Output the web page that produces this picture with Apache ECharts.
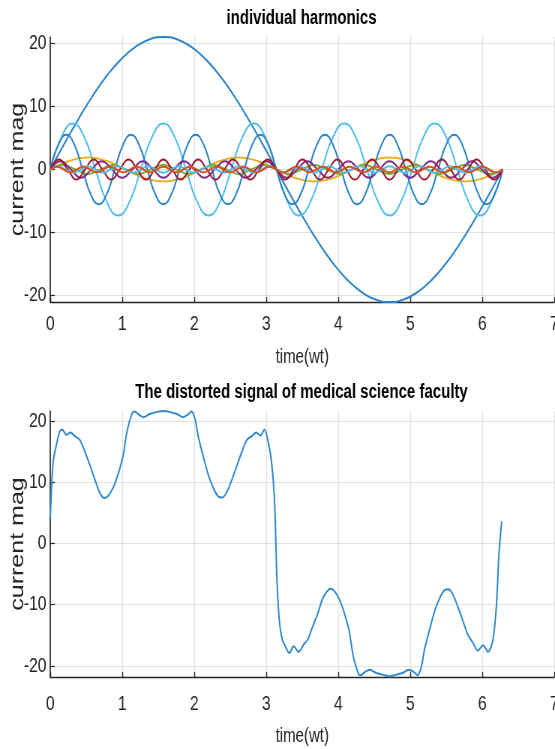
<!DOCTYPE html>
<html>
<head>
<meta charset="utf-8">
<script src="https://cdn.jsdelivr.net/npm/echarts@6/dist/echarts.min.js"></script>
<style>
html, body { margin: 0; padding: 0; background: #fff; overflow: hidden; }
/* the source figure is squeezed sideways, so the chart is drawn wider and squeezed back */
#chart { width: 740px; height: 749px; transform: scaleX(0.75); transform-origin: 0 0; }
</style>
</head>
<body>
<div id="chart"></div>
<script>
// ticks shared by both plots
var xTicks = [0, 1, 2, 3, 4, 5, 6, 7];
var yTicks = [-20, -10, 0, 10, 20];

// fundamental
var t1 = [0, 0.1963, 0.3927, 0.589, 0.7854, 0.9817, 1.1781, 1.3744, 1.5708, 1.7671, 1.9635, 2.1598, 2.3562, 2.5525, 2.7489, 2.9452, 3.1416,
  3.3379, 3.5343, 3.7306, 3.927, 4.1233, 4.3197, 4.516, 4.7124, 4.9087, 5.1051, 5.3014, 5.4978, 5.6941, 5.8905, 6.0868, 6.2832];
var v1 = [0, 4.1, 8.04, 11.67, 14.85, 17.46, 19.4, 20.6, 21, 20.6, 19.4, 17.46, 14.85, 11.67, 8.04, 4.1, 0,
  -4.1, -8.04, -11.67, -14.85, -17.46, -19.4, -20.6, -21, -20.6, -19.4, -17.46, -14.85, -11.67, -8.04, -4.1, 0];

// 3rd harmonic
var t3 = [0, 0.2618, 0.5236, 0.7854, 1.0472, 1.309, 1.5708, 1.8326, 2.0944, 2.3562, 2.618, 2.8798, 3.1416,
  3.4034, 3.6652, 3.927, 4.1888, 4.4506, 4.7124, 4.9742, 5.236, 5.4978, 5.7596, 6.0214, 6.2832];
var v3 = [0, 1.34, 1.9, 1.34, 0, -1.34, -1.9, -1.34,
  0, 1.34, 1.9, 1.34, 0, -1.34, -1.9, -1.34,
  0, 1.34, 1.9, 1.34, 0, -1.34, -1.9, -1.34, 0];

// 5th harmonic
var t5 = [0, 0.1571, 0.3142, 0.4712, 0.6283, 0.7854, 0.9425, 1.0996, 1.2566, 1.4137, 1.5708, 1.7279, 1.885, 2.042,
  2.1991, 2.3562, 2.5133, 2.6704, 2.8274, 2.9845, 3.1416, 3.2987, 3.4558, 3.6128, 3.7699, 3.927, 4.0841,
  4.2412, 4.3982, 4.5553, 4.7124, 4.8695, 5.0265, 5.1836, 5.3407, 5.4978, 5.6549, 5.8119, 5.969, 6.1261, 6.2832];
var v5 = [0, 5.16, 7.3, 5.16, 0, -5.16, -7.3, -5.16,
  0, 5.16, 7.3, 5.16, 0, -5.16, -7.3, -5.16,
  0, 5.16, 7.3, 5.16, 0, -5.16, -7.3, -5.16,
  0, 5.16, 7.3, 5.16, 0, -5.16, -7.3, -5.16,
  0, 5.16, 7.3, 5.16, 0, -5.16, -7.3, -5.16, 0];

// 7th harmonic
var t7 = [0, 0.1122, 0.2244, 0.3366, 0.4488, 0.561, 0.6732, 0.7854, 0.8976, 1.0098, 1.122, 1.2342, 1.3464, 1.4586,
  1.5708, 1.683, 1.7952, 1.9074, 2.0196, 2.1318, 2.244, 2.3562, 2.4684, 2.5806, 2.6928, 2.805, 2.9172, 3.0294,
  3.1416, 3.2538, 3.366, 3.4782, 3.5904, 3.7026, 3.8148, 3.927, 4.0392, 4.1514, 4.2636, 4.3758, 4.488, 4.6002,
  4.7124, 4.8246, 4.9368, 5.049, 5.1612, 5.2734, 5.3856, 5.4978, 5.61, 5.7222, 5.8344, 5.9466, 6.0588, 6.171, 6.2832];
var v7 = [0, 3.89, 5.5, 3.89, 0, -3.89, -5.5, -3.89,
  0, 3.89, 5.5, 3.89, 0, -3.89, -5.5, -3.89,
  0, 3.89, 5.5, 3.89, 0, -3.89, -5.5, -3.89,
  0, 3.89, 5.5, 3.89, 0, -3.89, -5.5, -3.89,
  0, 3.89, 5.5, 3.89, 0, -3.89, -5.5, -3.89,
  0, 3.89, 5.5, 3.89, 0, -3.89, -5.5, -3.89,
  0, 3.89, 5.5, 3.89, 0, -3.89, -5.5, -3.89, 0];

// 9th harmonic
var t9 = [0, 0.1745, 0.3491, 0.5236, 0.6981, 0.8727, 1.0472, 1.2217, 1.3963, 1.5708, 1.7453, 1.9199, 2.0944,
  2.2689, 2.4435, 2.618, 2.7925, 2.9671, 3.1416, 3.3161, 3.4907, 3.6652, 3.8397, 4.0143, 4.1888, 4.3633,
  4.5379, 4.7124, 4.8869, 5.0615, 5.236, 5.4105, 5.5851, 5.7596, 5.9341, 6.1087, 6.2832];
var v9 = [0, 0.7, 0, -0.7, 0, 0.7, 0, -0.7, 0, 0.7, 0, -0.7, 0, 0.7, 0, -0.7, 0, 0.7, 0, -0.7,
  0, 0.7, 0, -0.7, 0, 0.7, 0, -0.7, 0, 0.7, 0, -0.7, 0, 0.7, 0, -0.7, 0];

// 11th harmonic
var t11 = [0, 0.1428, 0.2856, 0.4284, 0.5712, 0.714, 0.8568, 0.9996, 1.1424, 1.2852, 1.428, 1.5708, 1.7136,
  1.8564, 1.9992, 2.142, 2.2848, 2.4276, 2.5704, 2.7132, 2.856, 2.9988, 3.1416, 3.2844, 3.4272, 3.57, 3.7128,
  3.8556, 3.9984, 4.1412, 4.284, 4.4268, 4.5696, 4.7124, 4.8552, 4.998, 5.1408, 5.2836, 5.4264, 5.5692, 5.712,
  5.8548, 5.9976, 6.1404, 6.2832];
var v11 = [0, 1.3, 0, -1.3, 0, 1.3, 0, -1.3, 0, 1.3, 0, -1.3, 0, 1.3, 0, -1.3, 0, 1.3, 0, -1.3, 0, 1.3,
  0, -1.3, 0, 1.3, 0, -1.3, 0, 1.3, 0, -1.3, 0, 1.3, 0, -1.3, 0, 1.3, 0, -1.3, 0, 1.3, 0, -1.3, 0];

// 13th harmonic
var t13 = [0, 0.1208, 0.2417, 0.3625, 0.4833, 0.6042, 0.725, 0.8458, 0.9666, 1.0875, 1.2083, 1.3291, 1.45,
  1.5708, 1.6916, 1.8125, 1.9333, 2.0541, 2.175, 2.2958, 2.4166, 2.5375, 2.6583, 2.7791, 2.9, 3.0208, 3.1416,
  3.2624, 3.3833, 3.5041, 3.6249, 3.7458, 3.8666, 3.9874, 4.1083, 4.2291, 4.3499, 4.4708, 4.5916, 4.7124,
  4.8332, 4.9541, 5.0749, 5.1957, 5.3166, 5.4374, 5.5582, 5.6791, 5.7999, 5.9207, 6.0416, 6.1624, 6.2832];
var v13 = [0, 1.6, 0, -1.6, 0, 1.6, 0, -1.6, 0, 1.6, 0, -1.6, 0, 1.6, 0, -1.6, 0, 1.6, 0, -1.6, 0, 1.6,
  0, -1.6, 0, 1.6, 0, -1.6, 0, 1.6, 0, -1.6, 0, 1.6, 0, -1.6, 0, 1.6, 0, -1.6, 0, 1.6, 0, -1.6, 0, 1.6,
  0, -1.6, 0, 1.6, 0, -1.6, 0];

// 15th harmonic
var t15 = [0, 0.1047, 0.2094, 0.3142, 0.4189, 0.5236, 0.6283, 0.733, 0.8378, 0.9425, 1.0472, 1.1519, 1.2566,
  1.3614, 1.4661, 1.5708, 1.6755, 1.7802, 1.885, 1.9897, 2.0944, 2.1991, 2.3038, 2.4086, 2.5133, 2.618, 2.7227,
  2.8274, 2.9322, 3.0369, 3.1416, 3.2463, 3.351, 3.4558, 3.5605, 3.6652, 3.7699, 3.8746, 3.9794, 4.0841, 4.1888,
  4.2935, 4.3982, 4.5029, 4.6077, 4.7124, 4.8171, 4.9218, 5.0265, 5.1313, 5.236, 5.3407, 5.4454, 5.5501, 5.6549,
  5.7596, 5.8643, 5.969, 6.0737, 6.1785, 6.2832];
var v15 = [0, 0.5, 0, -0.5, 0, 0.5, 0, -0.5, 0, 0.5, 0, -0.5, 0, 0.5, 0, -0.5, 0, 0.5, 0, -0.5,
  0, 0.5, 0, -0.5, 0, 0.5, 0, -0.5, 0, 0.5, 0, -0.5, 0, 0.5, 0, -0.5, 0, 0.5, 0, -0.5,
  0, 0.5, 0, -0.5, 0, 0.5, 0, -0.5, 0, 0.5, 0, -0.5, 0, 0.5, 0, -0.5, 0, 0.5, 0, -0.5, 0];

// 17th harmonic
var t17 = [0, 0.0924, 0.1848, 0.2772, 0.3696, 0.462, 0.5544, 0.6468, 0.7392, 0.8316, 0.924, 1.0164, 1.1088,
  1.2012, 1.2936, 1.386, 1.4784, 1.5708, 1.6632, 1.7556, 1.848, 1.9404, 2.0328, 2.1252, 2.2176, 2.31, 2.4024,
  2.4948, 2.5872, 2.6796, 2.772, 2.8644, 2.9568, 3.0492, 3.1416, 3.234, 3.3264, 3.4188, 3.5112, 3.6036, 3.696,
  3.7884, 3.8808, 3.9732, 4.0656, 4.158, 4.2504, 4.3428, 4.4352, 4.5276, 4.62, 4.7124, 4.8048, 4.8972, 4.9896,
  5.082, 5.1744, 5.2668, 5.3592, 5.4516, 5.544, 5.6364, 5.7288, 5.8212, 5.9136, 6.006, 6.0984, 6.1908, 6.2832];
var v17 = [0, 0.45, 0, -0.45, 0, 0.45, 0, -0.45, 0, 0.45, 0, -0.45, 0, 0.45, 0, -0.45, 0, 0.45, 0, -0.45,
  0, 0.45, 0, -0.45, 0, 0.45, 0, -0.45, 0, 0.45, 0, -0.45, 0, 0.45, 0, -0.45, 0, 0.45, 0, -0.45,
  0, 0.45, 0, -0.45, 0, 0.45, 0, -0.45, 0, 0.45, 0, -0.45, 0, 0.45, 0, -0.45, 0, 0.45, 0, -0.45,
  0, 0.45, 0, -0.45, 0, 0.45, 0, -0.45, 0];

// distorted signal (sum)
var sigT = [0, 0.01, 0.04, 0.09, 0.13, 0.165, 0.225, 0.28, 0.34, 0.41, 0.48, 0.55, 0.62, 0.69, 0.75, 0.8, 0.87, 0.94,
  1.01, 1.07, 1.14, 1.17, 1.24, 1.3, 1.38, 1.5, 1.57, 1.64, 1.76, 1.84, 1.91, 1.96, 2.01, 2.06, 2.13, 2.2, 2.27,
  2.34, 2.39, 2.45, 2.52, 2.59, 2.66, 2.73, 2.8, 2.86, 2.92, 2.975, 3.03, 3.07, 3.1, 3.12, 3.13, 3.15, 3.18, 3.22,
  3.27, 3.32, 3.38, 3.45, 3.52, 3.58, 3.65, 3.72, 3.78, 3.84, 3.89, 3.94, 4.01, 4.08, 4.15, 4.21, 4.28, 4.31, 4.38,
  4.44, 4.52, 4.64, 4.71, 4.78, 4.9, 4.98, 5.05, 5.1, 5.15, 5.2, 5.27, 5.34, 5.41, 5.48, 5.53, 5.59, 5.66, 5.73,
  5.8, 5.87, 5.94, 6.01, 6.08, 6.15, 6.2, 6.23, 6.27];
var sigV = [4.2, 7.0, 13.3, 16.3, 18.2, 18.6, 17.7, 18.1, 17.5, 16.9, 15.0, 12.8, 10.4, 8.2, 7.4, 7.7, 9.0, 11.2,
  14.2, 18.5, 21.3, 21.5, 20.9, 20.6, 21.1, 21.5, 21.6, 21.5, 21.1, 20.6, 21.0, 21.5, 20.3, 17.2, 14.0, 11.0, 8.9,
  7.6, 7.5, 8.3, 10.3, 12.6, 14.9, 16.9, 17.5, 18.1, 17.6, 18.6, 16.4, 13.6, 9.8, 5.5, 1.7, -6.4, -12.4, -15.6,
  -16.9, -17.9, -16.8, -17.7, -16.5, -15.6, -13.4, -11.3, -9.1, -7.9, -7.4, -7.7, -9.0, -11.2, -14.2, -18.5, -21.3, -21.5, -20.9,
  -20.6, -21.1, -21.5, -21.7, -21.5, -21.1, -20.6, -21.0, -21.5, -20.3, -17.2, -14.0, -11.0, -8.9, -7.6, -7.5, -8.3, -10.3, -12.6,
  -14.9, -16.2, -17.5, -16.6, -17.7, -15.6, -9.6, -2.1, 3.6];

var font = "'Liberation Sans', Arial, Helvetica, sans-serif";
var ink = '#262626';

var chart = echarts.init(document.getElementById('chart'));

function xAxisFor(gi, labelMargin, nameGap) {
	return {
		gridIndex: gi,
		type: 'value',
		min: 0,
		max: 7,
		interval: 1,
		name: 'time(wt)',
		nameLocation: 'middle',
		nameGap: nameGap,
		nameMoveOverlap: false,
		nameTextStyle: { fontFamily: font, fontSize: 20, color: ink },
		axisLine: { onZero: false, lineStyle: { color: ink, width: 1.4 } },
		axisTick: { inside: true, length: 5, lineStyle: { color: ink, width: 1.4 } },
		axisLabel: { margin: labelMargin, fontFamily: font, fontSize: 21, color: ink },
		splitLine: { show: true, lineStyle: { color: '#e0e0e0', width: 1.3 } }
	};
}

function yAxisFor(gi, min, max) {
	return {
		gridIndex: gi,
		type: 'value',
		min: min,
		max: max,
		name: 'current mag',
		nameLocation: 'middle',
		nameRotate: 90,
		nameGap: 30,
		nameMoveOverlap: false,
		nameTextStyle: { fontFamily: font, fontSize: 25, color: ink },
		axisLine: { show: true, onZero: false, lineStyle: { color: ink, width: 1.6 } },
		axisTick: { show: true, inside: true, length: 6, customValues: yTicks, lineStyle: { color: ink, width: 1.2 } },
		axisLabel: { customValues: yTicks, margin: 5, fontFamily: font, fontSize: 21, color: ink },
		splitLine: { show: true, lineStyle: { color: '#e0e0e0', width: 1 } }
	};
}

function lineOf(xs, ys, color, gi, smooth) {
	return {
		type: 'line',
		xAxisIndex: gi,
		yAxisIndex: gi,
		data: xs.map(function (x, i) { return [x, ys[i]]; }),
		showSymbol: false,
		smooth: smooth,
		animation: false,
		lineStyle: { color: color, width: 2 },
		itemStyle: { color: color }
	};
}

var option = {
	backgroundColor: '#fff',
	title: [{
		text: 'individual harmonics',
		left: 402,
		top: 8,
		textAlign: 'center',
		padding: 0,
		textStyle: { fontFamily: font, fontWeight: 'bold', fontSize: 20, color: '#000' }
	}, {
		text: 'The distorted signal of medical science faculty',
		left: 402,
		top: 382,
		textAlign: 'center',
		padding: 0,
		textStyle: { fontFamily: font, fontWeight: 'bold', fontSize: 20, color: '#000' }
	}],
	grid: [
		{ left: 67, right: 1, top: 37, height: 265, containLabel: false, outerBoundsMode: 'none' },
		{ left: 67, right: 1, top: 411, height: 266, containLabel: false, outerBoundsMode: 'none' }
	],
	xAxis: [xAxisFor(0, 12, 45), xAxisFor(1, 17, 49)],
	yAxis: [yAxisFor(0, -21, 21), yAxisFor(1, -21.8, 21.6)],
	series: [
		lineOf(t1, v1, '#2a83c6', 0, 0.5),
		lineOf(t3, v3, '#EDB120', 0, 0.5),
		lineOf(t5, v5, '#4DBEEE', 0, 0.5),
		lineOf(t7, v7, '#2a83c6', 0, 0.5),
		lineOf(t9, v9, '#77AC30', 0, 0.5),
		lineOf(t11, v11, '#7E2F8E', 0, 0.5),
		lineOf(t13, v13, '#A2142F', 0, 0.5),
		lineOf(t15, v15, '#4DBEEE', 0, 0.5),
		lineOf(t17, v17, '#D95319', 0, 0.5),
		lineOf(sigT, sigV, '#2f88cb', 1, 0.3)
	]
};
chart.setOption(option);
</script>
</body>
</html>
